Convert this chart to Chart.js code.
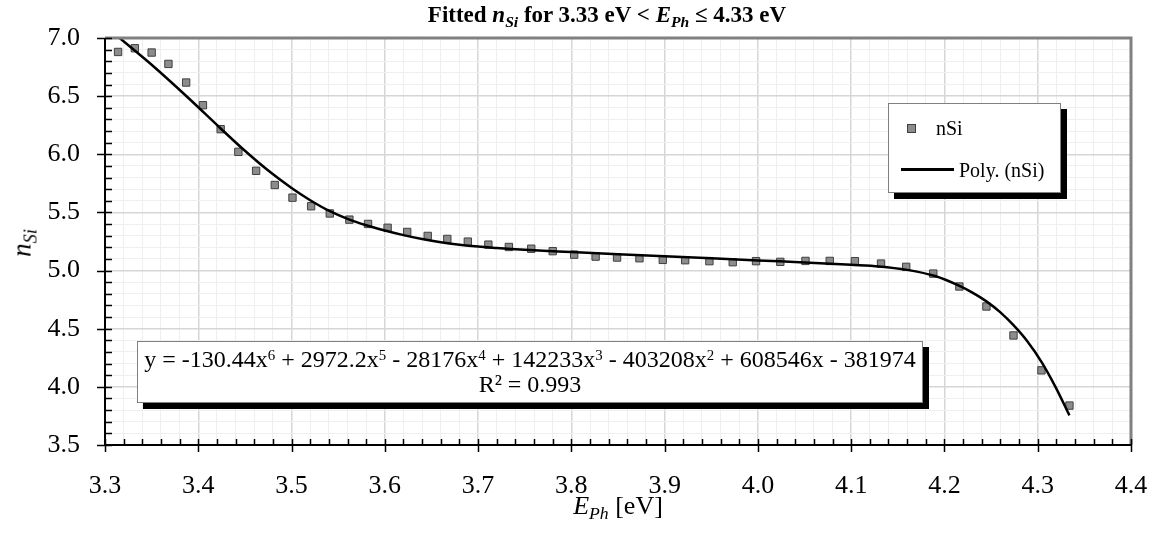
<!DOCTYPE html>
<html>
<head>
<meta charset="utf-8">
<script src="https://cdn.jsdelivr.net/npm/chart.js@4.4.1/dist/chart.umd.min.js"></script>
<style>
  body { margin: 0; background: #fff; }
  #wrap { position: relative; width: 1157px; height: 534px; font-family: "Liberation Serif", "Times New Roman", serif; color: #000; }
  #chart { position: absolute; left: 0; top: 0; }
  .txt { position: absolute; white-space: nowrap; line-height: 1; }
  .sub { font-size: 0.68em; position: relative; top: 0.3em; }
  #title { left: 607px; top: 3px; transform: translateX(-50%); font-size: 23px; font-weight: bold; }
  #ytitle { left: 22px; top: 243px; transform: translate(-50%, -50%) rotate(-90deg); font-size: 27px; }
  #xtitle { left: 618px; top: 493px; transform: translateX(-50%); font-size: 26px; }
  #legend { position: absolute; left: 888px; top: 103px; width: 171px; height: 88px; background: #fff; border: 1px solid #808080; box-shadow: 6px 6px 0 #000; }
  #legend .mk { position: absolute; left: 18px; top: 20px; width: 7px; height: 7px; background: #8c8c8c; border: 1px solid #404040; }
  #legend .ln { position: absolute; left: 12px; top: 64px; width: 53px; height: 3px; background: #000; }
  #legend .lt { position: absolute; font-size: 20px; line-height: 1; }
  #eqbox { position: absolute; left: 137px; top: 341px; width: 786px; height: 62px; background: #fff; border: 1px solid #808080; box-shadow: 6px 6px 0 #000; text-align: center; font-size: 24px; line-height: 25px; padding-top: 5px; box-sizing: border-box; }
  #eqbox sup { font-size: 0.62em; vertical-align: 0.5em; line-height: 0; }
</style>
</head>
<body>
<div id="wrap">
  <canvas id="chart" width="1157" height="534"></canvas>
  <div class="txt" id="title">Fitted <i>n<span class="sub">Si</span></i> for 3.33 eV &lt; <i>E<span class="sub">Ph</span></i> ≤ 4.33 eV</div>
  <div class="txt" id="ytitle"><i>n<span class="sub">Si</span></i></div>
  <div class="txt" id="xtitle"><i>E<span class="sub">Ph</span></i> [eV]</div>
  <div id="legend">
    <div class="mk"></div>
    <div class="lt" style="left:47px; top:14px;">nSi</div>
    <div class="ln"></div>
    <div class="lt" style="left:70px; top:56px;">Poly. (nSi)</div>
  </div>
  <div id="eqbox">y = -130.44x<sup>6</sup> + 2972.2x<sup>5</sup> - 28176x<sup>4</sup> + 142233x<sup>3</sup> - 403208x<sup>2</sup> + 608546x - 381974<br>R² = 0.993</div>
</div>
<script>
// measured nSi points (photon energy in eV)
const energy = [3.314, 3.332, 3.350, 3.368, 3.387, 3.405, 3.424, 3.443, 3.462, 3.482,
    3.501, 3.521, 3.541, 3.562, 3.582, 3.603, 3.624, 3.646, 3.667, 3.689,
    3.711, 3.733, 3.757, 3.780, 3.803, 3.826, 3.849, 3.873, 3.898, 3.922,
    3.948, 3.973, 3.998, 4.024, 4.051, 4.077, 4.104, 4.132, 4.159, 4.188,
    4.216, 4.245, 4.274, 4.304, 4.334];
const nSi = [6.880, 6.912, 6.875, 6.777, 6.617, 6.422, 6.216, 6.021, 5.858, 5.736,
    5.627, 5.553, 5.491, 5.438, 5.401, 5.368, 5.332, 5.298, 5.272, 5.249,
    5.223, 5.203, 5.188, 5.167, 5.137, 5.120, 5.112, 5.106, 5.092, 5.089,
    5.081, 5.072, 5.081, 5.075, 5.083, 5.083, 5.081, 5.060, 5.032, 4.974,
    4.863, 4.691, 4.442, 4.142, 3.839];

// polynomial trendline
const fitEnergy = [3.314, 3.35, 3.39, 3.424, 3.45, 3.475, 3.50, 3.52, 3.54, 3.56,
    3.58, 3.60, 3.62, 3.64, 3.66, 3.68, 3.70, 3.72, 3.74, 3.76,
    3.78, 3.80, 3.85, 3.90, 3.95, 4.00, 4.05, 4.10, 4.13, 4.16,
    4.19, 4.215, 4.23, 4.245, 4.26, 4.274, 4.289, 4.304, 4.319, 4.334];
const fitN = [7.011, 6.770, 6.480, 6.222, 6.030, 5.860, 5.710, 5.605, 5.515, 5.445,
    5.390, 5.345, 5.305, 5.271, 5.243, 5.222, 5.206, 5.194, 5.183, 5.174,
    5.166, 5.159, 5.141, 5.124, 5.106, 5.087, 5.070, 5.050, 5.036, 5.006,
    4.953, 4.872, 4.810, 4.735, 4.640, 4.530, 4.390, 4.215, 4.000, 3.755];

const xTickStep = 0.1;
const yTickStep = 0.5;

function isMajor(v, step) {
    return Math.abs(v / step - Math.round(v / step)) < 1e-6;
}

// axis lines, plot frame and tick marks like the original
const axisDecor = {
    id: 'axisDecor',
    afterDraw(chart) {
        const { ctx, chartArea: a, scales: { x, y } } = chart;
        ctx.save();
        ctx.strokeStyle = '#808080';
        ctx.lineWidth = 3;
        ctx.beginPath();
        ctx.moveTo(a.left, a.top);
        ctx.lineTo(a.right, a.top);
        ctx.lineTo(a.right, a.bottom);
        ctx.stroke();

        ctx.strokeStyle = '#000';
        ctx.lineWidth = 2;
        ctx.beginPath();
        ctx.moveTo(a.left, a.top);
        ctx.lineTo(a.left, a.bottom);
        ctx.lineTo(a.right, a.bottom);
        ctx.stroke();

        ctx.lineWidth = 1.5;
        ctx.beginPath();
        x.ticks.forEach(t => {
            const px = Math.round(x.getPixelForValue(t.value)) + 0.5;
            const major = isMajor(t.value, xTickStep);
            ctx.moveTo(px, a.bottom - 6);
            ctx.lineTo(px, a.bottom + (major ? 7 : 0));
        });
        y.ticks.forEach(t => {
            const py = Math.round(y.getPixelForValue(t.value)) + 0.5;
            const major = isMajor(t.value, yTickStep);
            ctx.moveTo(a.left - (major ? 8 : 0), py);
            ctx.lineTo(a.left + 7, py);
        });
        ctx.stroke();
        ctx.restore();
    }
};

const tickFont = { family: '"Liberation Serif", "Times New Roman", serif', size: 26 };

new Chart(document.getElementById('chart'), {
    type: 'scatter',
    data: {
        datasets: [{
            label: 'nSi',
            data: energy.map((e, i) => ({ x: e, y: nSi[i] })),
            pointStyle: 'rect',
            pointRadius: 5.2,
            pointBackgroundColor: '#8c8c8c',
            pointBorderColor: '#404040',
            pointBorderWidth: 1,
            order: 2
        }, {
            label: 'Poly. (nSi)',
            data: fitEnergy.map((e, i) => ({ x: e, y: fitN[i] })),
            showLine: true,
            borderColor: '#000',
            borderWidth: 2.5,
            pointRadius: 0,
            cubicInterpolationMode: 'monotone',
            order: 1
        }]
    },
    options: {
        responsive: false,
        animation: false,
        devicePixelRatio: 1,
        layout: { padding: { left: 0, right: 26, top: 38, bottom: 0 } },
        plugins: { legend: { display: false }, title: { display: false }, tooltip: { enabled: false } },
        scales: {
            x: {
                type: 'linear',
                min: 3.3,
                max: 4.4,
                afterFit(scale) {
                    scale.height = 89;
                    scale.paddingLeft = 0;
                    scale.paddingRight = 0;
                },
                border: { display: false },
                grid: {
                    drawTicks: false,
                    color: c => isMajor(c.tick.value, xTickStep) ? '#d6d6d6' : '#efefef',
                    lineWidth: c => isMajor(c.tick.value, xTickStep) ? 1.5 : 1
                },
                ticks: {
                    stepSize: 0.02,
                    autoSkip: false,
                    maxRotation: 0,
                    padding: 26,
                    color: '#000',
                    font: tickFont,
                    callback: v => isMajor(v, xTickStep) ? v.toFixed(1) : ''
                }
            },
            y: {
                type: 'linear',
                min: 3.5,
                max: 7.0,
                afterFit(scale) {
                    scale.width = 105;
                    scale.paddingTop = 0;
                    scale.paddingBottom = 0;
                },
                border: { display: false },
                grid: {
                    drawTicks: false,
                    color: c => isMajor(c.tick.value, yTickStep) ? '#d6d6d6' : '#efefef',
                    lineWidth: c => isMajor(c.tick.value, yTickStep) ? 1.5 : 1
                },
                ticks: {
                    stepSize: 0.1,
                    autoSkip: false,
                    padding: 25,
                    color: '#000',
                    font: tickFont,
                    callback: v => isMajor(v, yTickStep) ? v.toFixed(1) : ''
                }
            }
        }
    },
    plugins: [axisDecor]
});
</script>
</body>
</html>
